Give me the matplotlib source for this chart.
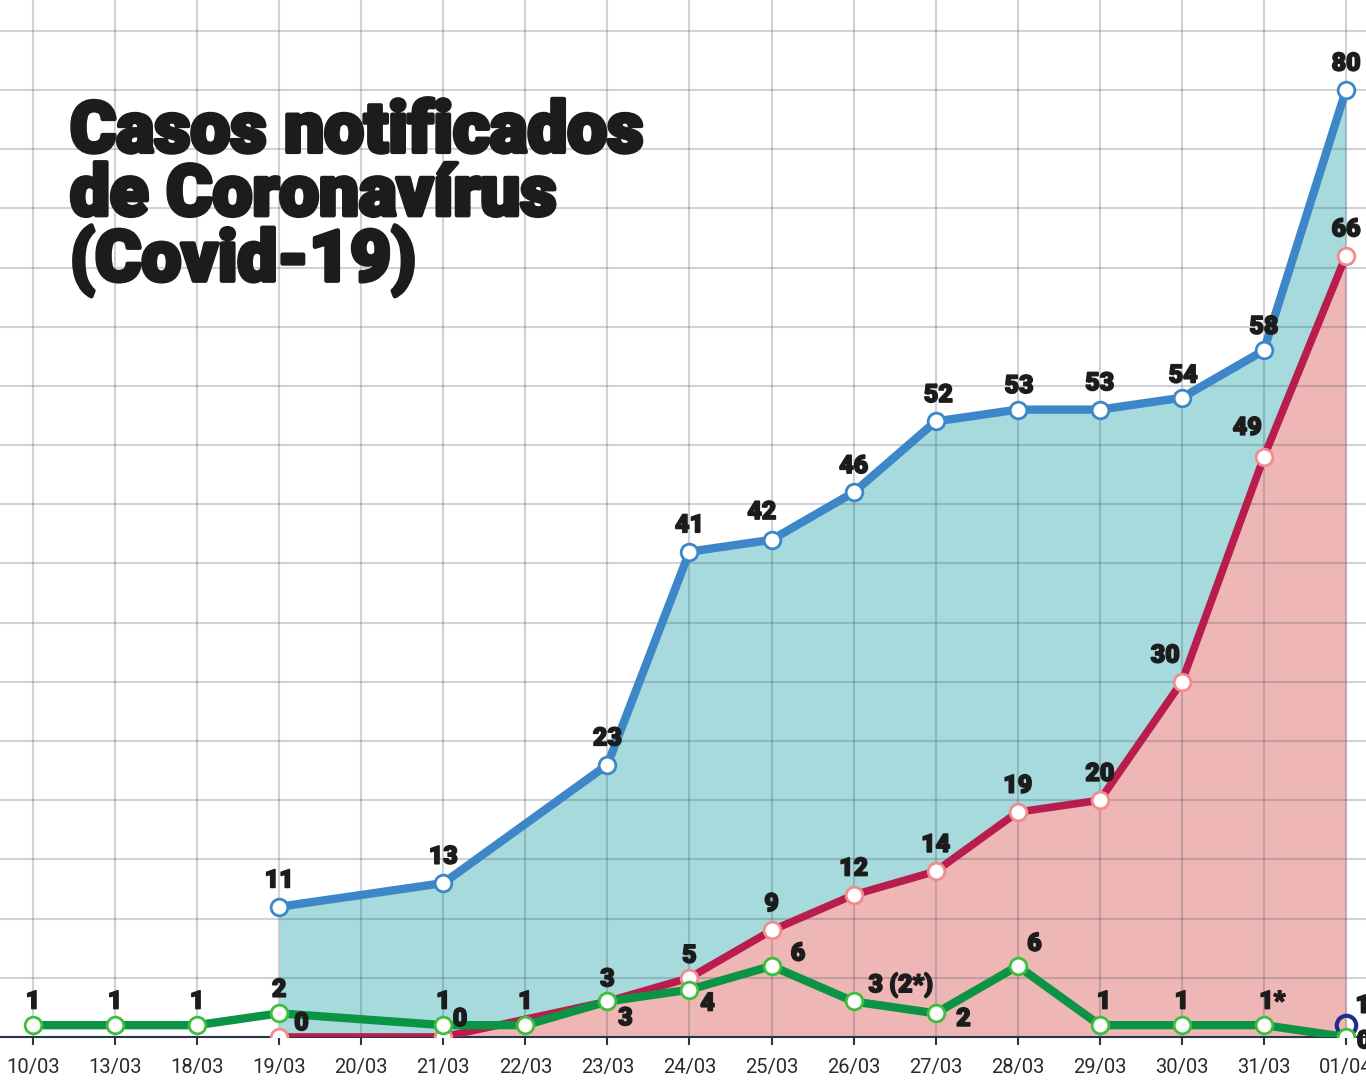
import matplotlib
matplotlib.use("Agg")
import matplotlib.pyplot as plt
import matplotlib.patheffects as pe
import numpy as np

# ---- data ----
dates = ["10/03", "13/03", "18/03", "19/03", "20/03", "21/03", "22/03", "23/03",
         "24/03", "25/03", "26/03", "27/03", "28/03", "29/03", "30/03", "31/03", "01/04"]

blue_idx = [3, 5, 7, 8, 9, 10, 11, 12, 13, 14, 15, 16]
blue_vals = [11, 13, 23, 41, 42, 46, 52, 53, 53, 54, 58, 80]

red_idx = [3, 5, 7, 8, 9, 10, 11, 12, 13, 14, 15, 16]
red_vals = [0, 0, 3, 5, 9, 12, 14, 19, 20, 30, 49, 66]

green_idx = [0, 1, 2, 3, 5, 6, 7, 8, 9, 10, 11, 12, 13, 14, 15, 16]
green_vals = [1, 1, 1, 2, 1, 1, 3, 4, 6, 3, 2, 6, 1, 1, 1, 0]
green_labels = ["1", "1", "1", "2", "1", "1", "3", "4", "6", "3 (2*)", "2", "6", "1", "1", "1*", "0"]

navy_idx = [16]
navy_vals = [1]

title = "Casos notificados\nde Coronavírus\n(Covid-19)"

# ---- style ----
BLUE = "#3d86c8"
BLUE_FILL = "#a6dadc"
RED = "#b81d4e"
RED_FILL = "#efb6b6"
RED_EDGE = "#f28b8b"
GREEN = "#0b9444"
GREEN_EDGE = "#3cbf3c"
NAVY = "#1f2f8f"
TXT = "#1c1c1c"

fig = plt.figure(figsize=(13.66, 10.8), dpi=100)
ax = fig.add_axes([0, 43 / 1080, 1, 1037 / 1080])
ax.set_xlim(-0.402, 16.244)
ax.set_ylim(0, 87.6)

# fills
ax.fill_between(blue_idx, blue_vals, 0, color=BLUE_FILL, lw=0, zorder=1)
ax.fill_between(red_idx, red_vals, 0, color=RED_FILL, lw=0, zorder=1.1)

# grid on top of fills
for yv in np.arange(5, 90, 5):
    ax.axhline(yv, color="#3a4a5c", alpha=0.24, lw=1.5, zorder=1.5)
for xv in range(len(dates)):
    ax.axvline(xv, color="#3a4a5c", alpha=0.24, lw=1.5, zorder=1.5)

# lines
ax.plot(blue_idx, blue_vals, color=BLUE, lw=6, zorder=3, solid_capstyle="butt",
        marker="o", ms=12, mfc="white", mec=BLUE, mew=2)
ax.plot(red_idx, red_vals, color=RED, lw=5.5, zorder=3.2, solid_capstyle="butt",
        marker="o", ms=12, mfc="white", mec=RED_EDGE, mew=2)
ax.plot(navy_idx, navy_vals, ls="none", marker="o", ms=14, mfc="none", mec=NAVY,
        mew=3, zorder=3.3)
ax.plot(green_idx, green_vals, color=GREEN, lw=6, zorder=3.5, solid_capstyle="butt",
        marker="o", ms=12, mfc="white", mec=GREEN_EDGE, mew=2)

heavy = [pe.withStroke(linewidth=1.2, foreground=TXT)]
lab_kw = dict(textcoords="offset points", fontsize=18, fontweight="black",
              family=["Roboto", "DejaVu Sans"], color=TXT, ha="center", va="center",
              zorder=5, annotation_clip=False, path_effects=heavy)

# blue labels (above)
blue_off = {5: (0, 19), 9: (-7, 20), 11: (2, 19), 12: (1, 17), 14: (1, 16), 15: (0, 17)}
for i, v in zip(blue_idx, blue_vals):
    dx, dy = blue_off.get(i, (0, 19))
    ax.annotate(str(v), (i, v), xytext=(dx, dy), **lab_kw)

# red labels
red_off = {3: (16, 10), 5: (12, 13), 7: (0, 16), 8: (0, 16), 14: (-12, 19), 15: (-12, 21)}
for i, v in zip(red_idx, red_vals):
    dx, dy = red_off.get(i, (0, 19))
    ax.annotate(str(v), (i, v), xytext=(dx, dy), **lab_kw)

# green labels
green_off = {7: (13, -12), 8: (13, -10), 9: (19, 9), 10: (34, 12), 11: (20, -4),
             12: (12, 16), 13: (3, 17), 15: (6, 17), 16: (13, -3)}
for i, v, t in zip(green_idx, green_vals, green_labels):
    dx, dy = green_off.get(i, (0, 17))
    ax.annotate(t, (i, v), xytext=(dx, dy), **lab_kw)

# navy label
ax.annotate("1", (16, 1), xytext=(12, 14), **lab_kw)

# axes styling
for s in ["top", "left", "right"]:
    ax.spines[s].set_visible(False)
ax.spines["bottom"].set_color("#27344a")
ax.spines["bottom"].set_linewidth(1.5)
ax.spines["bottom"].set_zorder(2)
ax.set_xticks(range(len(dates)))
ax.set_xticklabels(dates, fontsize=14.5, color="#2b2b2b", family=["Roboto", "DejaVu Sans"])
ax.tick_params(axis="x", length=6, width=1.5, color="#27344a", pad=9)
ax.set_yticks([])
ax.patch.set_alpha(0)

# title
fig.text(70 / 1366, 1 - 99 / 1080, title, fontsize=51, fontweight="black",
         family=["Roboto", "DejaVu Sans"], color=TXT, ha="left", va="top",
         linespacing=0.93, zorder=6,
         path_effects=[pe.withStroke(linewidth=3, foreground=TXT)])

fig.savefig("out.png", dpi=100)
